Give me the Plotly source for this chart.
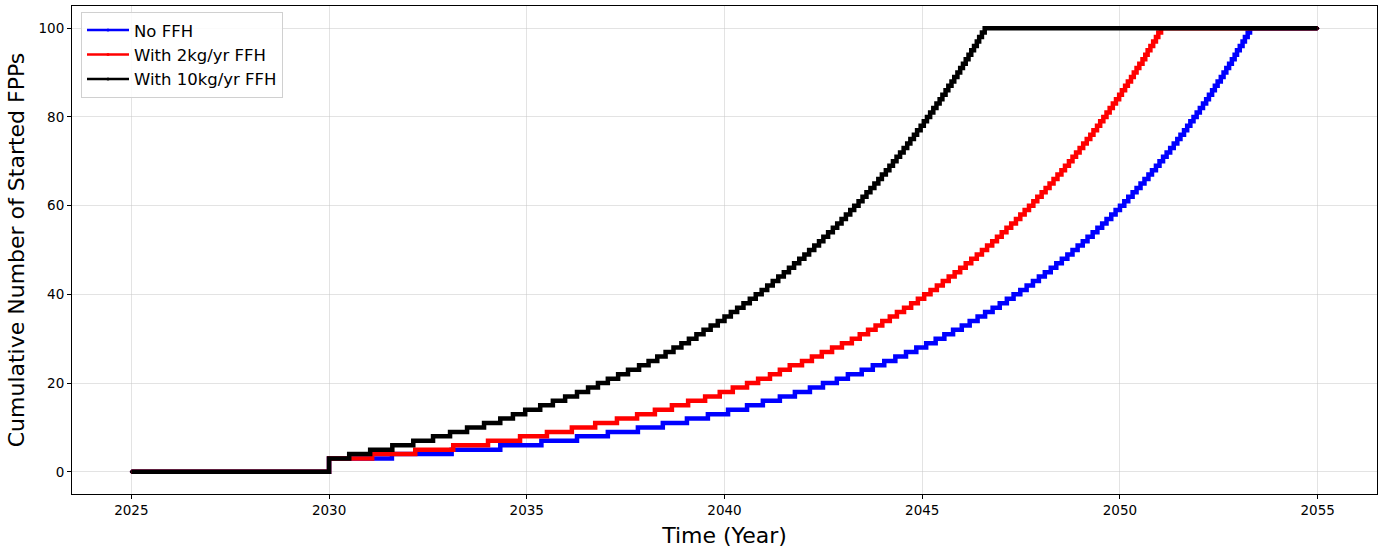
import plotly.graph_objects as go

# ---- data ----
start_year = 2025
launch_year = 2030
end_year = 2055
initial_fpps = 3
max_fpps = 100

series_names = ["No FFH", "With 2kg/yr FFH", "With 10kg/yr FFH"]
series_colors = ["#0000ff", "#ff0000", "#000000"]

# year at which the cumulative count reaches 4, 5, ..., 100
no_ffh_steps = [
    2031.59, 2033.10, 2034.33, 2035.37, 2036.27, 2037.05, 2037.81, 2038.44, 2039.05, 2039.58,
    2040.09, 2040.57, 2040.97, 2041.40, 2041.78, 2042.16, 2042.49, 2042.84, 2043.12, 2043.47,
    2043.75, 2044.04, 2044.32, 2044.59, 2044.85, 2045.10, 2045.34, 2045.56, 2045.78, 2046.00,
    2046.20, 2046.40, 2046.59, 2046.78, 2046.96, 2047.14, 2047.31, 2047.48, 2047.64, 2047.80,
    2047.95, 2048.10, 2048.25, 2048.39, 2048.53, 2048.67, 2048.80, 2048.93, 2049.06, 2049.18,
    2049.31, 2049.43, 2049.55, 2049.66, 2049.78, 2049.89, 2050.00, 2050.11, 2050.21, 2050.32,
    2050.42, 2050.52, 2050.62, 2050.72, 2050.81, 2050.91, 2051.00, 2051.09, 2051.18, 2051.27,
    2051.36, 2051.45, 2051.53, 2051.62, 2051.70, 2051.78, 2051.86, 2051.94, 2052.02, 2052.10,
    2052.18, 2052.25, 2052.33, 2052.40, 2052.47, 2052.55, 2052.62, 2052.69, 2052.76, 2052.83,
    2052.90, 2052.96, 2053.03, 2053.10, 2053.16, 2053.23, 2053.29,
]
ffh_2kg_steps = [
    2031.09, 2032.18, 2033.14, 2034.02, 2034.83, 2035.51, 2036.14, 2036.73, 2037.28, 2037.79,
    2038.24, 2038.67, 2039.08, 2039.51, 2039.88, 2040.21, 2040.57, 2040.85, 2041.15, 2041.40,
    2041.65, 2041.96, 2042.21, 2042.46, 2042.72, 2042.97, 2043.22, 2043.42, 2043.63, 2043.82,
    2043.99, 2044.18, 2044.36, 2044.54, 2044.72, 2044.89, 2045.05, 2045.21, 2045.37, 2045.52,
    2045.67, 2045.82, 2045.96, 2046.10, 2046.24, 2046.38, 2046.51, 2046.64, 2046.77, 2046.89,
    2047.01, 2047.13, 2047.25, 2047.37, 2047.48, 2047.59, 2047.70, 2047.81, 2047.91, 2048.02,
    2048.12, 2048.22, 2048.32, 2048.42, 2048.52, 2048.61, 2048.71, 2048.80, 2048.89, 2048.98,
    2049.07, 2049.16, 2049.25, 2049.33, 2049.42, 2049.50, 2049.58, 2049.66, 2049.74, 2049.82,
    2049.90, 2049.98, 2050.05, 2050.13, 2050.20, 2050.28, 2050.35, 2050.42, 2050.49, 2050.57,
    2050.64, 2050.70, 2050.77, 2050.84, 2050.91, 2050.97, 2051.04,
]
ffh_10kg_steps = [
    2030.51, 2031.04, 2031.60, 2032.13, 2032.63, 2033.06, 2033.49, 2033.92, 2034.33, 2034.65,
    2034.96, 2035.34, 2035.66, 2035.97, 2036.27, 2036.55, 2036.80, 2037.05, 2037.31, 2037.56,
    2037.84, 2038.08, 2038.30, 2038.51, 2038.71, 2038.91, 2039.10, 2039.29, 2039.47, 2039.65,
    2039.83, 2040.00, 2040.16, 2040.32, 2040.48, 2040.64, 2040.79, 2040.94, 2041.08, 2041.22,
    2041.36, 2041.50, 2041.63, 2041.76, 2041.89, 2042.02, 2042.14, 2042.27, 2042.39, 2042.50,
    2042.62, 2042.74, 2042.85, 2042.96, 2043.07, 2043.18, 2043.28, 2043.39, 2043.49, 2043.59,
    2043.69, 2043.79, 2043.89, 2043.98, 2044.08, 2044.17, 2044.26, 2044.35, 2044.44, 2044.53,
    2044.62, 2044.70, 2044.79, 2044.87, 2044.96, 2045.04, 2045.12, 2045.20, 2045.28, 2045.36,
    2045.44, 2045.51, 2045.59, 2045.66, 2045.74, 2045.81, 2045.89, 2045.96, 2046.03, 2046.10,
    2046.17, 2046.24, 2046.31, 2046.38, 2046.44, 2046.51, 2046.58,
]
step_levels = list(range(initial_fpps + 1, max_fpps + 1))

x_ticks = [2025, 2030, 2035, 2040, 2045, 2050, 2055]
y_ticks = [0, 20, 40, 60, 80, 100]


def staircase(steps):
    xs = [start_year, launch_year] + list(steps) + [end_year]
    ys = [0, initial_fpps] + step_levels + [max_fpps]
    return xs, ys


fig = go.Figure()
all_steps = [no_ffh_steps, ffh_2kg_steps, ffh_10kg_steps]

# thin traces for legend entries
for name, color, steps in zip(series_names, series_colors, all_steps):
    xs, ys = staircase(steps)
    fig.add_trace(go.Scatter(
        x=xs, y=ys, name=name, mode="lines+markers", line_shape="hv",
        line=dict(color=color, width=2.5), marker=dict(color=color, size=3),
        showlegend=True,
    ))
# thick drawn staircases
for name, color, steps in zip(series_names, series_colors, all_steps):
    xs, ys = staircase(steps)
    fig.add_trace(go.Scatter(
        x=xs, y=ys, name=name, mode="lines", line_shape="hv",
        line=dict(color=color, width=4.5), showlegend=False, hoverinfo="skip",
    ))

grid_col = "rgba(200,200,200,0.5)"
font_family = "DejaVu Sans"
fig.update_layout(
    width=1386, height=556,
    margin=dict(l=72, r=9, t=6, b=62, autoexpand=False),
    paper_bgcolor="white", plot_bgcolor="white",
    font=dict(family=font_family, color="black", size=14),
    legend=dict(
        x=0.0069, y=0.988, xanchor="left", yanchor="top",
        bgcolor="rgba(255,255,255,0.85)", bordercolor="#d0d0d0", borderwidth=1,
        font=dict(size=16.5, family=font_family), tracegroupgap=0,
        itemwidth=42,
    ),
    xaxis=dict(
        range=[2023.5, 2056.5], tickvals=x_ticks, ticktext=[str(v) for v in x_ticks],
        showline=True, mirror=True, linecolor="black", linewidth=1,
        ticks="outside", ticklen=4, tickcolor="black",
        showgrid=True, gridcolor=grid_col, gridwidth=1, zeroline=False,
        tickfont=dict(size=13.5), automargin=False,
        title=dict(text="Time (Year)", font=dict(size=22), standoff=10),
    ),
    yaxis=dict(
        range=[-5, 105], tickvals=y_ticks,
        showline=True, mirror=True, linecolor="black", linewidth=1,
        ticks="outside", ticklen=4, tickcolor="black",
        showgrid=True, gridcolor=grid_col, gridwidth=1, zeroline=False,
        tickfont=dict(size=13.5), automargin=False,
        title=dict(text="Cumulative Number of Started FPPs", font=dict(size=22), standoff=7),
    ),
)

fig.write_html(
    "out.html",
    config={"displayModeBar": False},
    post_script="document.body.style.margin='0';document.body.style.padding='0';",
)
